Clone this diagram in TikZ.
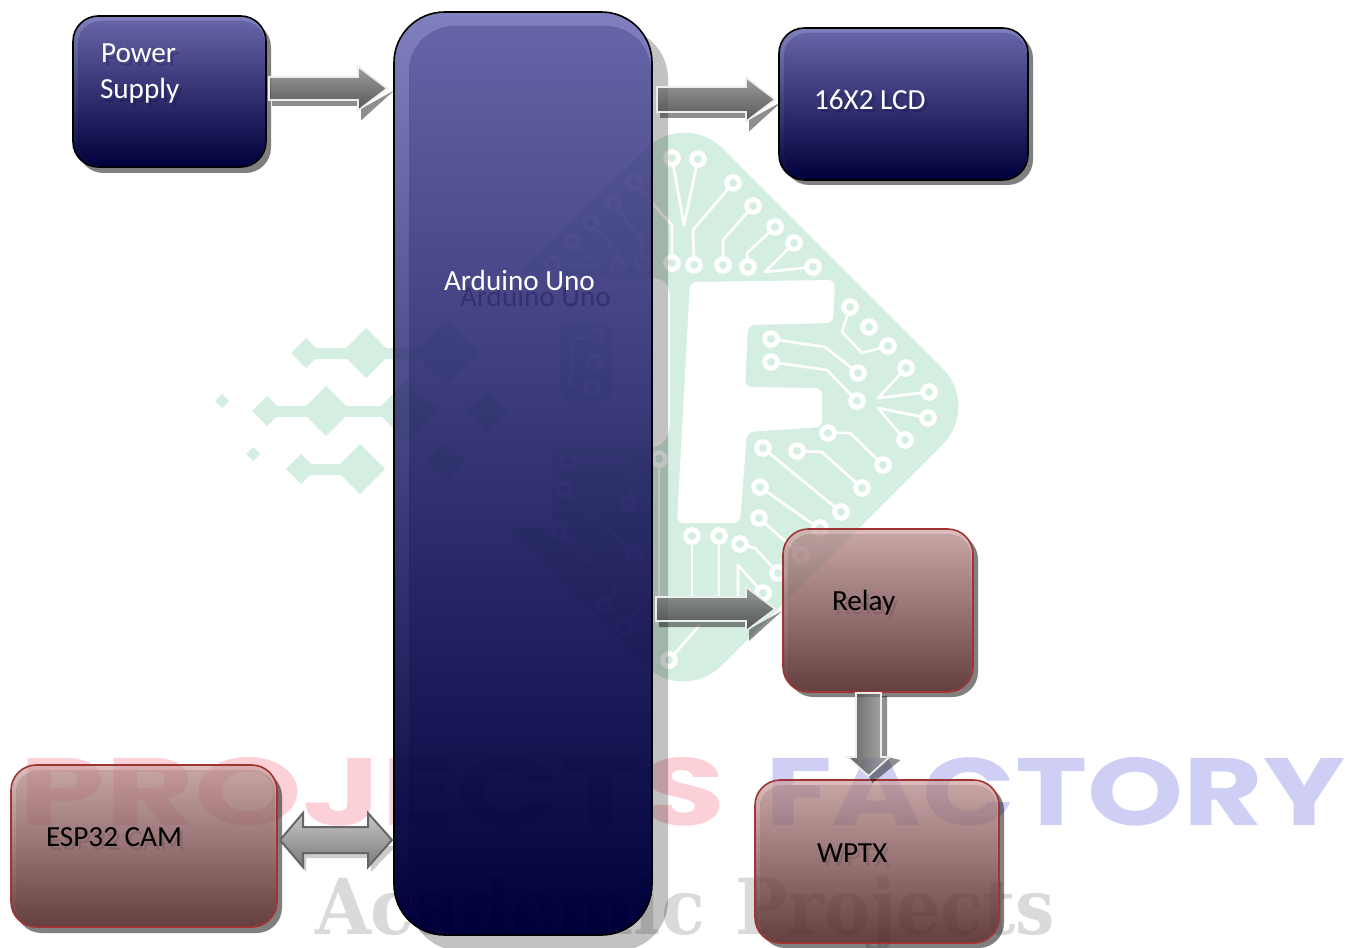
\documentclass[tikz,border=0pt]{standalone}
\usepackage{graphicx}
\usepackage{fontspec}
\setmainfont{Carlito}
\usetikzlibrary{calc}
\def\pxu{0.75pt}
\definecolor{logogreen}{HTML}{D5EEE2}
\definecolor{wmred}{HTML}{FBD0D6}
\definecolor{wmblue}{HTML}{CFCFF6}
\definecolor{wmgray}{HTML}{DADADA}
\definecolor{darkrim}{HTML}{8080BE}
\definecolor{darktop}{HTML}{6464A6}
\definecolor{darkbot}{HTML}{00003C}
\definecolor{redrim}{HTML}{DDBDBD}
\definecolor{redtop}{HTML}{C6A4A4}
\definecolor{redbot}{HTML}{664040}
\definecolor{redline}{HTML}{A03434}
\definecolor{ashadow}{HTML}{8E8E8E}
\tikzset{
  boxnode/.style={rectangle,inner sep=0pt,outer sep=0pt},
  lab/.style={inner sep=0pt,outer sep=0pt,anchor=west,font=\fontsize{21.9pt}{24pt}\selectfont},
  whitelab/.style={lab,text=white},
  blacklab/.style={lab,text=black},
  ghostdark/.style={lab,text=darkbot,opacity=.2},
  ghostred/.style={lab,text=black,opacity=.1},
  arrowline/.style={draw=white!93!black,line width=1.3pt,line join=miter},
  arrowshade/.style={top color=black!38,bottom color=black!66},
  arrowshadev/.style={left color=black!62,right color=black!30},
  arrowshad/.style={fill=ashadow},
  trace/.style={draw=white,line width=2pt,line join=round},
  pad/.style={draw=white,line width=3.6pt,fill=logogreen},
  wmtext/.style={inner sep=0pt,outer sep=0pt,anchor=base west},
  mult/.style={blend mode=multiply},
  veil/.style={fill opacity=.62},
}
% paint a box on a named node, multiplied onto the watermark beneath it
% #1 node, #2 radius, #3 inner radius, #4 insets l, #5 t, #6 r, #7 b, #8 rim, #9 top
\newcommand\boxpaint[9]{%
  \def\bxn{#1}\def\bxr{#2}\def\bxi{#3}\def\bxl{#4}\def\bxt{#5}\def\bxe{#6}\def\bxb{#7}\def\bxrim{#8}\def\bxtop{#9}%
  \boxpaintii}
% #1 bottom, #2 outline, #3 shadow dx px, #4 shadow dy px, #5 shadow colour
\newcommand\boxpaintii[5]{%
  \begin{scope}[even odd rule]
    \clip[rounded corners=\bxr] (\bxn.north west) rectangle (\bxn.south east)
       [sharp corners] (0,0) rectangle (1351,948);
    \fill[mult,fill=#5,rounded corners=\bxr] ($(\bxn.north west)+(#3,#4)$) rectangle ($(\bxn.south east)+(#3,#4)$);
  \end{scope}
  \def\rimpath{[rounded corners=\bxr] (\bxn.north west) rectangle (\bxn.south east)
     [rounded corners=\bxi] ($(\bxn.north west)+(\bxl,\bxt)$) rectangle ($(\bxn.south east)+(-\bxe,-\bxb)$)}%
  \def\corepath{[rounded corners=\bxi] ($(\bxn.north west)+(\bxl,\bxt)$) rectangle ($(\bxn.south east)+(-\bxe,-\bxb)$)}%
  \shade[mult,even odd rule,top color=\bxrim,bottom color=#1] \rimpath;
  \shade[mult,top color=\bxtop,bottom color=#1] \corepath;
  \shade[veil,even odd rule,top color=\bxrim,bottom color=#1] \rimpath;
  \shade[veil,top color=\bxtop,bottom color=#1] \corepath;
  \draw[#2,line width=1.2pt,rounded corners=\bxr] (\bxn.north west) rectangle (\bxn.south east);}
% horizontal block arrow: start, tip, half shaft, half head, head length (px)
\newcommand\hblock[5]{%
  \fill[arrowshad,mult] let \p1=(#1),\p2=(#2) in
    (\x1+3*\pxu,\y1-#3*\pxu-6*\pxu) -- (\x2-#5*\pxu+3*\pxu,\y1-#3*\pxu-6*\pxu)
    -- (\x2-#5*\pxu+3*\pxu,\y1-#4*\pxu-10*\pxu) -- (\x2+7*\pxu,\y1-2*\pxu)
    -- (\x2-#5*\pxu,\y1-#4*\pxu) -- (\x2-#5*\pxu,\y1-#3*\pxu) -- (\x1+3*\pxu,\y1-#3*\pxu) -- cycle;
  \def\blockpath{let \p1=(#1),\p2=(#2) in
    (\x1,\y1+#3*\pxu) -- (\x2-#5*\pxu,\y1+#3*\pxu) -- (\x2-#5*\pxu,\y1+#4*\pxu)
    -- (\x2,\y1) -- (\x2-#5*\pxu,\y1-#4*\pxu) -- (\x2-#5*\pxu,\y1-#3*\pxu)
    -- (\x1,\y1-#3*\pxu) -- cycle}%
  \shade[arrowshade,mult] \blockpath;
  \shade[arrowshade,veil] \blockpath;
  \path[arrowline] \blockpath;}
\newcommand\vblock[5]{%
  \fill[arrowshad,mult] let \p1=(#1),\p2=(#2) in
    (\x1+#3*\pxu,\y1-3*\pxu) -- (\x1+#3*\pxu+6*\pxu,\y1-3*\pxu) -- (\x1+#3*\pxu+6*\pxu,\y2+#5*\pxu)
    -- (\x1+#4*\pxu+11*\pxu,\y2+#5*\pxu-3*\pxu) -- (\x1+4*\pxu,\y2-7*\pxu)
    -- (\x1,\y2) -- (\x1+#4*\pxu,\y2+#5*\pxu) -- (\x1+#3*\pxu,\y2+#5*\pxu) -- cycle;
  \def\blockpath{let \p1=(#1),\p2=(#2) in
    (\x1-#3*\pxu,\y1) -- (\x1-#3*\pxu,\y2+#5*\pxu) -- (\x1-#4*\pxu,\y2+#5*\pxu)
    -- (\x1,\y2) -- (\x1+#4*\pxu,\y2+#5*\pxu) -- (\x1+#3*\pxu,\y2+#5*\pxu)
    -- (\x1+#3*\pxu,\y1) -- cycle}%
  \shade[arrowshadev,mult] \blockpath;
  \shade[arrowshadev,veil] \blockpath;
  \path[arrowline] \blockpath;}
\begin{document}
\begin{tikzpicture}[x=0.75pt,y=-0.75pt]
\useasboundingbox (0,0) rectangle (1351,948);
\fill[white] (0,0) rectangle (1351,948);

% watermark, painted first; the boxes multiply over it
\foreach \cx/\cy/\r in {306/353/15,366/353/25,446/353/32,267/411/15,326/411/25,407/411/31,487/412/21,
    301/469/15,360/469/25,445/461/20,222/401/7,253/454/7}
  \fill[logogreen] (\cx-\r,\cy) -- (\cx,\cy-\r) -- (\cx+\r,\cy) -- (\cx,\cy+\r) -- cycle;
\fill[logogreen] (306,347.5) rectangle (446,358.5);
\fill[logogreen] (267,405.5) rectangle (407,416.5);
\fill[logogreen] (301,463.5) rectangle (360,474.5);
\fill[logogreen] [rounded corners=40pt] (600,195) -- (684.5,110.5) -- (980.5,406.5) -- (683.5,703.5) -- (600,620)
   [rounded corners=2pt] -- (507,527) -- (552,527) -- (553,447) -- (650,447)
   .. controls (664,447) and (670,435) .. (670,420) -- (670,300)
   .. controls (670,285) and (664,278) .. (650,278) -- (520,273) -- cycle;
\fill[white,rounded corners=5pt] (690,282) -- (835,280) -- (833,323) -- (748,325) -- (745,387) -- (822,388)
   -- (822,427) -- (747,432) -- (740,523) -- (677,523) -- cycle;
\fill[logogreen,rounded corners=8pt] (560,323) rectangle (613,400);
\foreach \t in {
   {(672,158)--(684,225)--(698,159)},{(733,183)--(693,230)--(694,265)},{(753,206)--(723,240)--(723,265)},
   {(775,227)--(747,253)--(748,267)},{(794,243)--(765,272)--(813,267)},{(633,182)--(672,225)--(672,263)},
   {(613,203)--(642,240)--(642,263)},{(591,223)--(618,253)--(618,265)},{(572,242)--(600,267)--(553,264)},
   {(598,336)--(573,340)--(570,387)--(592,389)},{(568,462)--(632,462)--(632,490)--(627,503)},
   {(563,489)--(634,553)},{(559,530)--(617,590)--(603,605)},{(624,627)--(640,607)},
   {(669,660)--(700,625)},{(659,459)--(659,600)},
   {(763,448)--(841,512)},{(797,451)--(822,452)--(862,488)},{(828,433)--(850,433)--(883,465)},
   {(760,487)--(807,520)--(820,528)},{(759,518)--(801,555)},{(692,536)--(692,597)},{(719,536)--(719,597)},
   {(740,544)--(755,548)--(778,573)},{(763,593)--(738,565)--(738,597)},
   {(906,368)--(878,398)--(929,392)},{(928,418)--(878,408)--(905,440)},
   {(850,307)--(842,332)--(862,353)--(888,346)},{(771,339)--(825,347)--(858,373)},{(771,362)--(827,370)--(857,401)}}
  \draw[trace] \t;
\foreach \px/\py in {672/158,698/159,733/183,753/206,775/227,794/243,813/267,672/263,694/265,723/265,748/267,
    633/182,613/203,591/223,572/242,553/264,618/265,642/263,598/336,594/362,592/389,568/462,627/503,563/489,
    634/553,559/530,603/605,624/627,669/660,659/459,763/448,841/512,797/451,862/488,828/433,883/465,760/487,
    820/528,759/518,801/555,692/536,719/536,740/544,778/573,763/593,906/368,929/392,928/418,905/440,850/307,
    869/327,888/346,771/339,858/373,771/362,857/401}
  \draw[pad] (\px,\py) circle[radius=4.8pt];
\node[wmtext,text=wmred] (wm1) at (20,825) {\resizebox{528.75pt}{51pt}{\fontspec{Poppins}\bfseries PROJECTS}};
\node[wmtext,text=wmblue] (wm2) at (765,825) {\resizebox{435pt}{51pt}{\fontspec{Poppins}\bfseries FACTORY}};
\node[wmtext,text=wmgray] (wm3) at (315,934) {\resizebox{292.5pt}{44pt}{\fontspec{DejaVu Serif}\bfseries Academic}};
\node[wmtext,text=wmgray] (wm4) at (735,934) {\resizebox{240pt}{44pt}{\fontspec{DejaVu Serif}\bfseries Projects}};

% boxes
\node[boxnode,minimum width=193.5pt,minimum height=692.25pt] (uno) at (523,473.5) {};
\node[boxnode,minimum width=144.75pt,minimum height=113.25pt] (power) at (169.5,91.5) {};
\node[boxnode,minimum width=186.75pt,minimum height=114pt] (lcd) at (903.5,104) {};
\node[boxnode,minimum width=142.5pt,minimum height=122.25pt] (relay) at (878,610.5) {};
\node[boxnode,minimum width=199.5pt,minimum height=121.5pt] (esp) at (144,846) {};
\node[boxnode,minimum width=183pt,minimum height=122.25pt] (wptx) at (877,861.5) {};
\boxpaint{uno}{38pt}{34pt}{15}{14}{1}{1}{darkrim}{darktop}{darkbot}{black}{16}{16}{black!24}
\boxpaint{power}{19pt}{17pt}{5}{5}{1}{1}{darkrim}{darktop}{darkbot}{black}{5}{6}{black!50}
\boxpaint{lcd}{19pt}{17pt}{5}{5}{1}{1}{darkrim}{darktop}{darkbot}{black}{5}{5}{black!50}
\boxpaint{relay}{19pt}{17pt}{5}{5}{2}{2}{redrim}{redtop}{redbot}{redline}{5}{5}{black!50}
\boxpaint{esp}{19pt}{17pt}{5}{5}{2}{2}{redrim}{redtop}{redbot}{redline}{5}{6}{black!50}
\boxpaint{wptx}{19pt}{17pt}{5}{5}{2}{2}{redrim}{redtop}{redbot}{redline}{5}{5}{black!50}

% connector ends
\coordinate (a1s) at ($(power.east)+(3,-3)$);
\coordinate (a1e) at ($(a1s -| uno.west)+(-7,0)$);
\coordinate (a2s) at ($(uno.east |- lcd.east)+(5,-4.5)$);
\coordinate (a2e) at ($(a2s -| lcd.west)+(-4,0)$);
\coordinate (a3s) at ($(uno.east |- relay.east)+(4,-1.5)$);
\coordinate (a3e) at ($(a3s -| relay.west)+(-8,0)$);
\coordinate (a4s) at ($(relay.south)+(-9.5,1)$);
\coordinate (a4e) at ($(a4s |- wptx.north)+(0,-4)$);
\coordinate (a5s) at ($(esp.east)+(3,-6)$);
\coordinate (a5e) at ($(a5s -| uno.west)+(-2,0)$);

% block arrows
\hblock{a1s}{a1e}{11.5}{22}{29}
\hblock{a2s}{a2e}{12.5}{22}{29}
\hblock{a3s}{a3e}{12}{22}{29}
\vblock{a4s}{a4e}{12.5}{21}{19}
\fill[black!20,mult] let \p1=(a5s),\p2=(a5e) in
  (\x1+26*\pxu,\y1-32*\pxu) -- (\x1+26*\pxu,\y1-18*\pxu) -- (\x2-21*\pxu,\y1-18*\pxu)
  -- (\x2-21*\pxu,\y1-32*\pxu) -- (\x2+4*\pxu,\y1-6*\pxu) -- (\x1+4*\pxu,\y1-6*\pxu) -- cycle;
\path[draw=black!60,line width=1.5pt,line join=miter,top color=black!22,bottom color=black!52]
  let \p1=(a5s),\p2=(a5e) in
  (\x1,\y1) -- (\x1+23*\pxu,\y1+27*\pxu) -- (\x1+23*\pxu,\y1+13*\pxu) -- (\x2-24*\pxu,\y1+13*\pxu)
  -- (\x2-24*\pxu,\y1+27*\pxu) -- (\x2,\y1) -- (\x2-24*\pxu,\y1-27*\pxu) -- (\x2-24*\pxu,\y1-13*\pxu)
  -- (\x1+23*\pxu,\y1-13*\pxu) -- (\x1+23*\pxu,\y1-27*\pxu) -- cycle;

% labels
\node[ghostdark] (gp) at (104,57) {Power};
\node[ghostdark] (gs) at (103,95) {Supply};
\node[whitelab] (tp) at (101,53) {Power};
\node[whitelab] (ts) at (100,91) {Supply};
\node[ghostdark,opacity=.28] (gu) at (460,296) {Arduino Uno};
\node[whitelab] (tu) at (444,280) {Arduino Uno};
\node[ghostdark] (gl) at (817,103) {16X2 LCD};
\node[whitelab] (tl) at (814,100) {16X2 LCD};
\node[ghostred] (gr) at (835,607) {Relay};
\node[blacklab] (tr) at (832,603) {Relay};
\node[ghostred] (ge) at (49,841) {ESP32 CAM};
\node[blacklab] (te) at (46,837) {ESP32 CAM};
\node[ghostred] (gw) at (820,857) {WPTX};
\node[blacklab] (tw) at (817,853) {WPTX};
\end{tikzpicture}
\end{document}
